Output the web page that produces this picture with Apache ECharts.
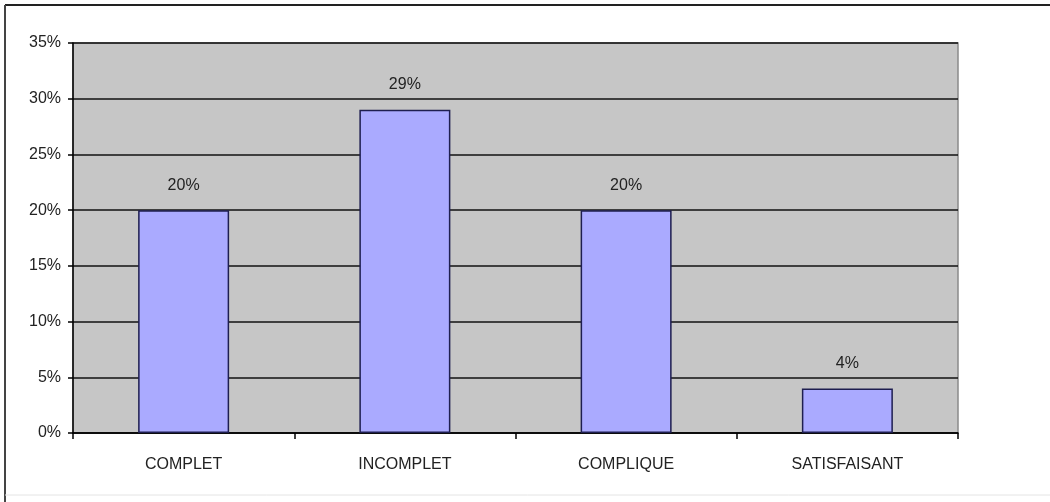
<!DOCTYPE html>
<html>
<head>
<meta charset="utf-8">
<script src="https://cdn.jsdelivr.net/npm/echarts@6/dist/echarts.min.js"></script>
<style>
  html, body { margin: 0; padding: 0; background: #fff; }
  #chart { width: 1050px; height: 502px; }
</style>
</head>
<body>
<div id="chart"></div>
<script>
// Answer categories and their share of responses (percent)
const categories = ['COMPLET', 'INCOMPLET', 'COMPLIQUE', 'SATISFAISANT'];
const shares = [20, 29, 20, 4];
// Value axis: 0% to 35% in 5% steps
const axisMin = 0;
const axisMax = 35;
const axisStep = 5;

const font = 'Liberation Sans, Arial, sans-serif';
const chart = echarts.init(document.getElementById('chart'));

chart.setOption({
  animation: false,
  backgroundColor: '#ffffff',
  graphic: [
    // frame around the whole chart
    { type: 'line', shape: { x1: 5, y1: 5, x2: 1050, y2: 5 }, style: { stroke: '#222', lineWidth: 2 } },
    { type: 'line', shape: { x1: 5, y1: 5, x2: 5, y2: 502 }, style: { stroke: '#444', lineWidth: 2 } },
    { type: 'line', shape: { x1: 5, y1: 495, x2: 1050, y2: 495 }, style: { stroke: '#e4e4e4', lineWidth: 1 } }
  ],
  grid: {
    left: 73, right: 92, top: 43, bottom: 69,
    show: true,
    backgroundColor: '#C6C6C6',
    borderColor: '#8a8a8a',
    borderWidth: 1.5
  },
  xAxis: {
    type: 'category',
    data: categories,
    axisLine: { show: true, lineStyle: { color: '#000', width: 1.5 } },
    axisTick: { show: true, alignWithLabel: false, length: 6, lineStyle: { color: '#000', width: 1.5 } },
    axisLabel: { color: '#222', fontFamily: font, fontSize: 16, margin: 24 }
  },
  yAxis: {
    type: 'value',
    min: axisMin,
    max: axisMax,
    interval: axisStep,
    axisLine: { show: true, lineStyle: { color: '#000', width: 1.5 } },
    axisTick: { show: true, inside: false, length: 5, lineStyle: { color: '#000', width: 1.5 } },
    axisLabel: { color: '#222', fontFamily: font, fontSize: 16, margin: 12, formatter: '{value}%' },
    splitLine: { show: true, lineStyle: { color: '#111', width: 1.5 } }
  },
  series: [{
    type: 'bar',
    data: shares,
    barWidth: 91,
    itemStyle: { color: '#AAAAFF', borderColor: '#1e1e50', borderWidth: 1.5 },
    label: {
      show: true,
      position: 'top',
      distance: 17,
      color: '#222',
      fontFamily: font,
      fontSize: 16,
      formatter: '{c}%'
    }
  }]
});
</script>
</body>
</html>
